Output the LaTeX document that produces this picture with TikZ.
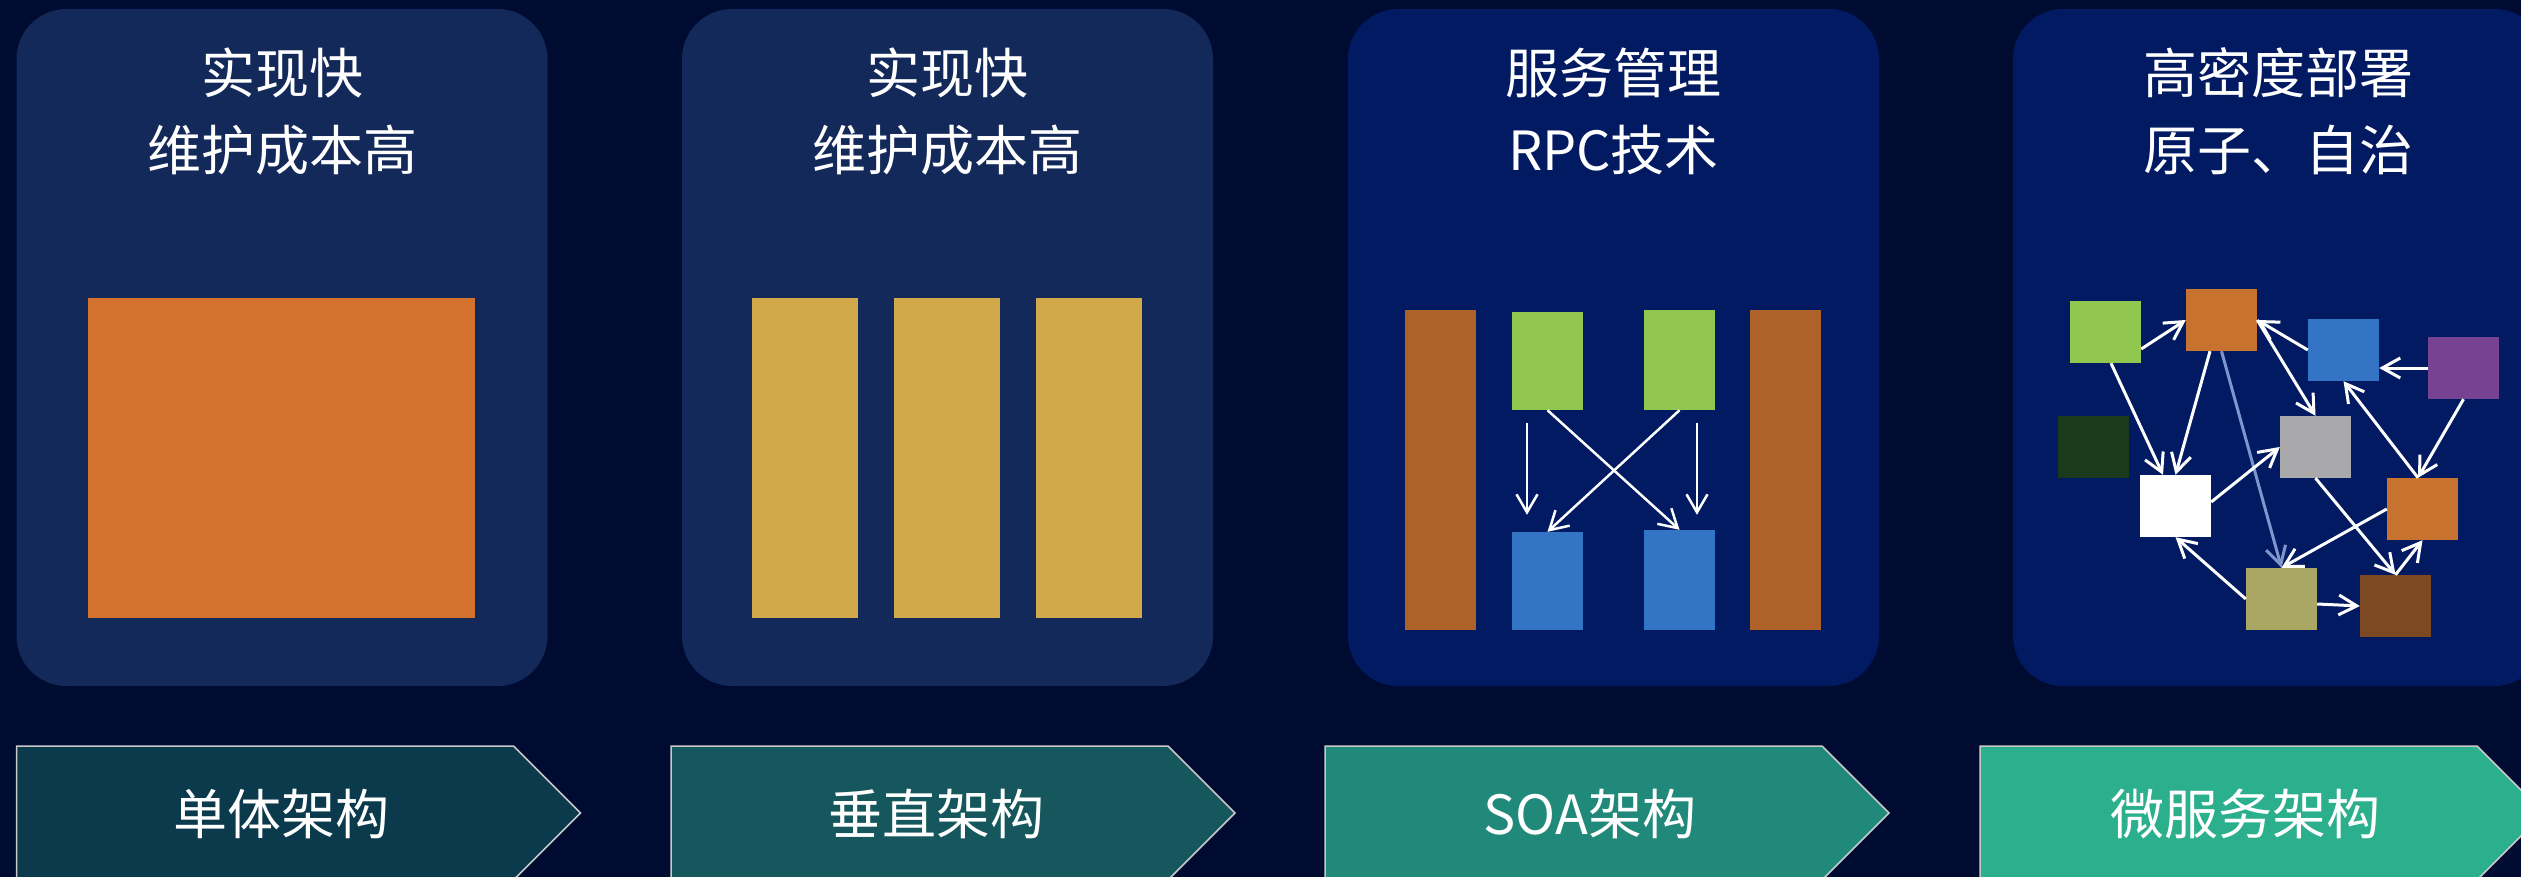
\documentclass[tikz,border=0pt]{standalone}
\usepackage{fontspec}
\newfontfamily\cjk{Noto Sans CJK SC}
\usetikzlibrary{arrows.meta,calc}
\definecolor{bgc}{HTML}{000B32}
\definecolor{panA}{HTML}{13295A}
\definecolor{panB}{HTML}{011A62}
\definecolor{monoorange}{HTML}{D2722E}
\definecolor{vertyellow}{HTML}{D1A94A}
\definecolor{soabrown}{HTML}{AE6128}
\definecolor{msgreen}{HTML}{92C74F}
\definecolor{msblue}{HTML}{3374C4}
\definecolor{msorange}{HTML}{C8722F}
\definecolor{mspurple}{HTML}{764392}
\definecolor{msdkgreen}{HTML}{1B3A1B}
\definecolor{msgray}{HTML}{A9A9AB}
\definecolor{mskhaki}{HTML}{A9A763}
\definecolor{msbrown}{HTML}{7D4923}
\definecolor{lightarr}{HTML}{7F95CC}
\definecolor{chA}{HTML}{0B3A4D}
\definecolor{chB}{HTML}{15575C}
\definecolor{chC}{HTML}{21897A}
\definecolor{chD}{HTML}{2BAF8C}
\definecolor{chedge}{HTML}{C8C8C8}
\begin{document}
\begin{tikzpicture}[x=1pt,y=-1pt,
  panel/.style={rectangle, inner sep=0pt, minimum width=531pt, minimum height=677pt, rounded corners=50pt, fill=#1},
  blk/.style={rectangle, inner sep=0pt, fill=#1},
  box/.style={rectangle, inner sep=0pt, minimum width=71pt, minimum height=62pt, fill=#1},
  lbl/.style={font=\cjk\fontsize{54}{60}\selectfont, text=white, anchor=base, inner sep=0pt},
  chev/.style={fill=#1, draw=chedge, line width=1.5pt},
  arr/.style={draw=white, line width=3pt, -{Straight Barb[length=18pt,width=20pt]}},
  arrL/.style={draw=lightarr, line width=3pt, -{Straight Barb[length=18pt,width=20pt]}},
  arrS/.style={draw=white, line width=2.5pt, -{Straight Barb[length=18pt,width=21pt]}},
]
\useasboundingbox (0,0) rectangle (2521,877);
\clip (0,0) rectangle (2521,877);
\fill[bgc] (0,0) rectangle (2521,877);

% panels
\node[panel=panA] (p1) at (282,347.5) {};
\node[panel=panA] (p2) at (947.5,347.5) {};
\node[panel=panB] (p3) at (1613.5,347.5) {};
\node[panel=panB] (p4) at (2278.5,347.5) {};

% panel texts
\node[lbl] (t1a) at (282,93.5) {实现快};
\node[lbl] (t1b) at (282,170.5) {维护成本高};
\node[lbl] (t2a) at (947.5,93.5) {实现快};
\node[lbl] (t2b) at (947.5,170.5) {维护成本高};
\node[lbl] (t3a) at (1613.5,93.5) {服务管理};
\node[lbl] (t3b) at (1613.5,170.5) {RPC技术};
\node[lbl] (t4a) at (2278.5,93.5) {高密度部署};
\node[lbl] (t4b) at (2278.5,170.5) {原子、自治};

% monolith
\node[blk=monoorange, minimum width=387pt, minimum height=320pt] (mono) at (281.5,458) {};

% vertical
\node[blk=vertyellow, minimum width=106pt, minimum height=320pt] (v1) at (805,458) {};
\node[blk=vertyellow, minimum width=106pt, minimum height=320pt] (v2) at (947,458) {};
\node[blk=vertyellow, minimum width=106pt, minimum height=320pt] (v3) at (1089,458) {};

% SOA
\node[blk=soabrown, minimum width=71pt, minimum height=320pt] (sL) at (1440.5,470) {};
\node[blk=soabrown, minimum width=71pt, minimum height=320pt] (sR) at (1785.5,470) {};
\node[blk=msgreen, minimum width=71pt, minimum height=98pt] (g1) at (1547.5,361) {};
\node[blk=msgreen, minimum width=71pt, minimum height=100pt] (g2) at (1679.5,360) {};
\node[blk=msblue, minimum width=71pt, minimum height=98pt] (b1) at (1547.5,581) {};
\node[blk=msblue, minimum width=71pt, minimum height=100pt] (b2) at (1679.5,580) {};
\draw[arrS] ($(g1.south)+(-20.5,13)$) -- ($(b1.north)+(-20.5,-17)$);
\draw[arrS] ($(g2.south)+(17.5,13)$) -- ($(b2.north)+(17.5,-15)$);
\draw[arrS] (g1.south) -- (b2.north);
\draw[arrS] (g2.south) -- (b1.north);

% microservices
\node[box=msgreen] (G) at (2105.5,332) {};
\node[box=msorange] (O1) at (2221.5,320) {};
\node[box=msblue] (B) at (2343.5,350) {};
\node[box=mspurple] (P) at (2463.5,368) {};
\node[box=msdkgreen] (DG) at (2093.5,447) {};
\node[box=msgray] (GR) at (2315.5,447) {};
\node[box=white] (W) at (2175.5,506) {};
\node[box=msorange] (O2) at (2422.5,509) {};
\node[box=mskhaki] (K) at (2281.5,599) {};
\node[box=msbrown] (BR) at (2395.5,606) {};

\draw[arrL] (O1.south) -- (K.north);
\draw[arr] ($(G.east)+(0,17)$) -- (O1.west);
\draw[arr] ($(G.south)+(5.5,0)$) -- ($(W.north)+(-12.5,0)$);
\draw[arr] ($(O1.south)+(-11.5,0)$) -- (W.north);
\draw[arr] (B.west) -- (O1.east);
\draw[arr] (O1.east) -- (GR.north);
\draw[arr] (P.west) -- ($(B.east)+(0,18)$);
\draw[arr] (P.south) -- ($(O2.north)+(-4.5,0)$);
\draw[arr] ($(O2.north)+(-4.5,0)$) -- (B.south);
\draw[arr] ($(W.east)+(0,-4)$) -- (GR.west);
\draw[arr] (GR.south) -- (BR.north);
\draw[arr] (O2.west) -- (K.north);
\draw[arr] (BR.north) -- (O2.south);
\draw[arr] (K.west) -- (W.south);
\draw[arr] ($(K.east)+(0,5)$) -- (BR.west);

% chevrons
\filldraw[chev=chA] (16.5,746) -- (513.5,746) -- (580.5,813) -- (513.5,880) -- (16.5,880) -- cycle;
\filldraw[chev=chB] (671,746) -- (1168,746) -- (1235,813) -- (1168,880) -- (671,880) -- cycle;
\filldraw[chev=chC] (1325,746) -- (1822,746) -- (1889,813) -- (1822,880) -- (1325,880) -- cycle;
\filldraw[chev=chD] (1980,746) -- (2477,746) -- (2544,813) -- (2477,880) -- (1980,880) -- cycle;
\node[lbl] (c1) at (281.5,834.5) {单体架构};
\node[lbl] (c2) at (936,834.5) {垂直架构};
\node[lbl] (c3) at (1590,834.5) {SOA架构};
\node[lbl] (c4) at (2245,834.5) {微服务架构};
\end{tikzpicture}
\end{document}
